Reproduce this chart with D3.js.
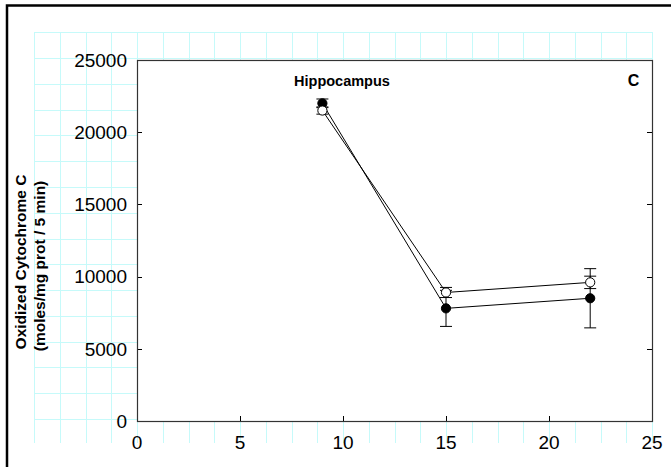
<!DOCTYPE html>
<html>
<head>
<meta charset="utf-8">
<script src="https://cdn.jsdelivr.net/npm/d3@7"></script>
<style>
  html, body { margin: 0; padding: 0; background: #fff; overflow: hidden; }
  svg { display: block; font-family: "Liberation Sans", Arial, sans-serif; }
</style>
</head>
<body>
<svg id="chart" width="671" height="467"></svg>
<script>
// Time points (x) and measured values for the two groups
const xValues = [9, 15, 22];
const filledMeans = [22000, 7800, 8500];
const filledErrors = [300, 1250, 2050];
const openMeans = [21500, 8900, 9600];
const openErrors = [250, 350, 430];

const xTicks = [0, 5, 10, 15, 20, 25];
const yTicks = [0, 5000, 10000, 15000, 20000, 25000];

const titleText = "Hippocampus";
const panelLetter = "C";
const yLabelLines = ["Oxidized Cytochrome C", "(moles/mg prot / 5 min)"];

const svg = d3.select("#chart");
const plot = { left: 137, right: 652, top: 60, bottom: 421 };

const x = d3.scaleLinear().domain([0, 25]).range([plot.left, plot.right]);
const y = d3.scaleLinear().domain([0, 25000]).range([plot.bottom, plot.top]);

// Outer frame (only left and top edges fall inside the page)
svg.append("path")
  .attr("d", "M7,470 L7,5.5 L675,5.5")
  .attr("fill", "none").attr("stroke", "#000").attr("stroke-width", 2.5);

// Light background page grid
const gridColor = "#c6fafa";
const gx = d3.range(-5, 25.001, 1.25);
const gyStep = 25000 / 14;
const gy = d3.range(0, 16).map(k => k * gyStep);
const grid = svg.append("g").attr("stroke", gridColor).attr("stroke-width", 1);
grid.selectAll("line.v").data(gx).join("line").attr("class", "v")
  .attr("x1", d => Math.round(x(d)) + 0.5).attr("x2", d => Math.round(x(d)) + 0.5)
  .attr("y1", y(15 * gyStep) - 2).attr("y2", plot.bottom + 22);
grid.selectAll("line.h").data(gy).join("line").attr("class", "h")
  .attr("y1", d => Math.round(y(d)) - 1.5).attr("y2", d => Math.round(y(d)) - 1.5)
  .attr("x1", x(-5)).attr("x2", x(25) + 1);

// Plot area
svg.append("rect")
  .attr("x", plot.left).attr("y", plot.top)
  .attr("width", plot.right - plot.left).attr("height", plot.bottom - plot.top)
  .attr("fill", "#fff");

// Inward tick marks
const tickLen = 5;
const ticks = svg.append("g").attr("stroke", "#000").attr("stroke-width", 1);
ticks.selectAll("line.yl").data(yTicks.slice(1, -1)).join("line")
  .attr("x1", plot.left).attr("x2", plot.left + tickLen)
  .attr("y1", d => Math.round(y(d)) + 0.5).attr("y2", d => Math.round(y(d)) + 0.5);
ticks.selectAll("line.yr").data(yTicks.slice(1, -1)).join("line")
  .attr("x1", plot.right).attr("x2", plot.right - tickLen)
  .attr("y1", d => Math.round(y(d)) + 0.5).attr("y2", d => Math.round(y(d)) + 0.5);
ticks.selectAll("line.xb").data(xTicks.slice(1, -1)).join("line")
  .attr("x1", d => Math.round(x(d)) + 0.5).attr("x2", d => Math.round(x(d)) + 0.5)
  .attr("y1", plot.bottom).attr("y2", plot.bottom - tickLen);

// Plot frame
svg.append("rect")
  .attr("x", plot.left + 0.5).attr("y", plot.top + 0.5)
  .attr("width", plot.right - plot.left).attr("height", plot.bottom - plot.top)
  .attr("fill", "none").attr("stroke", "#333").attr("stroke-width", 1.2);

// Tick labels
svg.append("g").selectAll("text").data(yTicks).join("text")
  .attr("x", plot.left - 10).attr("y", d => y(d))
  .attr("dy", "0.36em").attr("text-anchor", "end")
  .attr("font-size", 19).attr("fill", "#000")
  .text(d => d);
svg.append("g").selectAll("text").data(xTicks).join("text")
  .attr("x", d => x(d)).attr("y", plot.bottom + 21)
  .attr("dy", "0.36em").attr("text-anchor", "middle")
  .attr("font-size", 19).attr("fill", "#000")
  .text(d => d);

// Title and panel letter
svg.append("text").attr("x", x(9.95)).attr("y", 86)
  .attr("font-size", 14.5).attr("font-weight", "bold").attr("text-anchor", "middle")
  .text(titleText);
svg.append("text").attr("x", x(24.1)).attr("y", 86)
  .attr("font-size", 16).attr("font-weight", "bold").attr("text-anchor", "middle")
  .text(panelLetter);

// Y axis label (two lines, rotated)
const yl = svg.append("text")
  .attr("transform", "translate(26,262) rotate(-90)")
  .attr("text-anchor", "middle").attr("font-size", 15.5).attr("font-weight", "bold");
yl.append("tspan").attr("x", 0).attr("y", 0).text(yLabelLines[0]);
yl.append("tspan").attr("x", -4).attr("y", 19).text(yLabelLines[1]);

// Series
const series = [
  { means: filledMeans, errs: filledErrors, fill: "#000" },
  { means: openMeans, errs: openErrors, fill: "#fff" }
];
const line = d3.line().x(d => x(d[0])).y(d => y(d[1]));
const capHalf = 6;

series.forEach(s => {
  const pts = xValues.map((v, i) => [v, s.means[i], s.errs[i]]);
  svg.append("path").datum(pts).attr("d", line)
    .attr("fill", "none").attr("stroke", "#000").attr("stroke-width", 1);
});

series.forEach(s => {
  const pts = xValues.map((v, i) => [v, s.means[i], s.errs[i]]);
  const eb = svg.append("g").attr("stroke", "#000").attr("stroke-width", 1);
  eb.selectAll("line.stem").data(pts).join("line")
    .attr("x1", d => x(d[0])).attr("x2", d => x(d[0]))
    .attr("y1", d => y(d[1] - d[2])).attr("y2", d => y(d[1] + d[2]));
  eb.selectAll("line.cap1").data(pts).join("line")
    .attr("x1", d => x(d[0]) - capHalf).attr("x2", d => x(d[0]) + capHalf)
    .attr("y1", d => y(d[1] + d[2])).attr("y2", d => y(d[1] + d[2]));
  eb.selectAll("line.cap2").data(pts).join("line")
    .attr("x1", d => x(d[0]) - capHalf).attr("x2", d => x(d[0]) + capHalf)
    .attr("y1", d => y(d[1] - d[2])).attr("y2", d => y(d[1] - d[2]));
});

series.forEach(s => {
  const pts = xValues.map((v, i) => [v, s.means[i]]);
  svg.append("g").selectAll("circle").data(pts).join("circle")
    .attr("cx", d => x(d[0])).attr("cy", d => y(d[1])).attr("r", 4.6)
    .attr("fill", s.fill).attr("stroke", "#000").attr("stroke-width", 1);
});
</script>
</body>
</html>
